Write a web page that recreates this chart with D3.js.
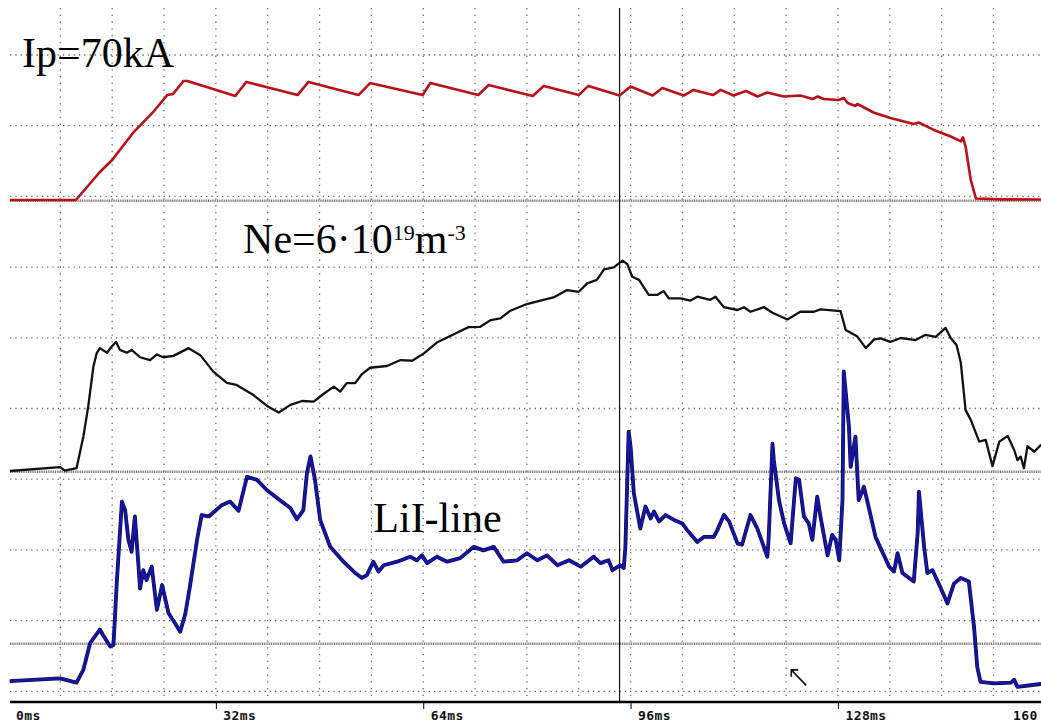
<!DOCTYPE html>
<html>
<head>
<meta charset="utf-8">
<script src="https://cdnjs.cloudflare.com/ajax/libs/d3/7.8.5/d3.min.js"></script>
<style>
  body { margin: 0; background: #fff; }
  svg { display: block; }
</style>
</head>
<body>
<div id="chart"></div>
<script>
// plasma current, kA  [time ms, value]
const ipData = [[0.2,0],[10.4,0],[14.1,17.5],[16.0,25],[19.2,41.9],[22.2,54.4],[24.5,65.6],[25.4,66.3],[27.0,74.4],[27.6,74.4],
  [35.0,65],[36.7,73.8],[44.6,65.6],[46.3,73.8],[54.0,65.6],[55.8,73.1],[63.9,65.6],[65.1,73.1],[72.5,65.6],[74.1,71.9],
  [80.9,65],[82.6,71.3],[88.0,65.6],[89.5,71.3],[94.3,65.3],[96.0,70.9],[99.4,65.3],[100.9,70],[104.2,65.3],[105.7,68.8],
  [108.7,65.6],[109.9,68.8],[111.9,65.3],[113.8,68.1],[115.6,64.7],[117.1,67.2],[119.6,64.7],[122.2,65.3],[124.1,63.1],
  [124.9,64.7],[125.8,63.1],[128.1,62.5],[128.9,63.8],[129.5,60.6],[130.7,58.8],[131.0,60],[133.5,54.7],[136.1,51.3],
  [139.7,47.5],[140.5,48.4],[142.8,43.8],[145.4,39.7],[147.0,36.6],[147.3,39.1],[147.7,33.4],[148.5,12.5],[149.3,0.9],
  [153,0.4],[160,0.3]];

// line averaged density, 1e19 m^-3
const neData = [[0.2,0],[7.95,0.11],[8.7,0.01],[10.5,0.08],[11.55,0.98],[12.3,1.84],[13.1,2.98],[13.6,3.36],[14.1,3.51],
  [15.2,3.38],[15.9,3.55],[16.6,3.69],[17.2,3.46],[18.25,3.38],[19.0,3.46],[20.3,3.25],[21.85,3.17],[22.9,3.33],[23.9,3.25],
  [25.45,3.29],[27.8,3.51],[29.6,3.31],[31.6,2.84],[33.7,2.52],[35.2,2.46],[37.8,2.17],[39.9,1.86],[41.7,1.67],[43.5,1.89],
  [45.3,2.0],[47.1,1.98],[48.6,2.2],[50.2,2.41],[51.2,2.27],[52.2,2.51],[53.5,2.51],[54.55,2.77],[55.8,2.95],[58.4,3.0],
  [60.5,3.17],[62.3,3.15],[64.1,3.36],[66.1,3.67],[69.2,3.95],[71.0,4.11],[72.8,4.12],[74.4,4.31],[75.9,4.36],[77.45,4.58],
  [80.0,4.77],[82.1,4.87],[84.1,4.96],[86.2,5.17],[88.0,5.12],[89.3,5.36],[90.8,5.46],[91.9,5.76],[93.4,5.82],[94.75,6.01],
  [95.5,5.91],[96.25,5.55],[97.3,5.46],[98.8,5.03],[100.1,5.03],[101.1,5.14],[101.9,4.93],[103.7,4.93],[105.25,4.87],
  [106.3,4.98],[108.3,4.89],[109.1,4.98],[110.4,4.68],[112.5,4.6],[113.5,4.68],[114.5,4.55],[116.6,4.68],[117.9,4.52],
  [120.2,4.33],[122.2,4.55],[124.3,4.55],[125.3,4.62],[128.4,4.57],[129.2,4.03],[131.0,3.84],[132.3,3.51],[133.6,3.76],
  [134.6,3.79],[136.1,3.69],[137.7,3.8],[140.0,3.74],[141.5,3.89],[143.1,3.83],[144.6,4.09],[145.4,3.8],[146.3,3.6],
  [146.95,3.11],[147.7,1.74],[148.5,1.46],[149.8,0.84],[150.8,0.89],[151.85,0.14],[152.9,0.84],[154.2,1.0],[155.2,0.6],
  [155.7,0.31],[156.2,0.41],[156.7,0.08],[157.25,0.71],[158.3,0.55],[159.3,0.74],[160,0.66]];

// Li I line intensity, a.u.
const liData = [[0.2,-0.54],[7.95,-0.5],[10.5,-0.56],[11.55,-0.38],[12.6,0.0],[14.1,0.19],[14.6,0.11],[15.7,-0.05],[16.2,-0.03],
  [16.7,0.84],[17.5,2.0],[18.0,1.88],[18.5,1.46],[19.0,1.29],[19.5,1.79],[20.05,1.1],[20.3,0.77],[20.8,1.03],[21.3,0.89],
  [22.1,1.08],[22.9,0.47],[23.7,0.82],[24.7,0.42],[25.7,0.28],[26.5,0.16],[27.3,0.42],[28.0,0.8],[29.1,1.46],[29.8,1.81],
  [30.9,1.79],[32.9,1.95],[34.2,2.0],[35.5,1.87],[36.8,2.35],[38.3,2.31],[39.9,2.16],[41.9,2.02],[43.5,1.91],[44.5,1.75],
  [45.5,1.88],[46.05,2.4],[46.6,2.64],[47.3,2.31],[48.1,1.74],[49.65,1.36],[51.7,1.15],[53.5,0.99],[54.55,0.92],[55.3,0.96],
  [56.3,1.15],[57.1,1.01],[57.9,1.1],[59.95,1.15],[62.0,1.22],[63.0,1.17],[63.8,1.24],[64.6,1.13],[66.1,1.22],[67.7,1.15],
  [69.7,1.2],[71.8,1.36],[73.3,1.31],[74.9,1.36],[76.4,1.15],[78.5,1.17],[80.0,1.27],[81.6,1.17],[83.1,1.24],[84.7,1.1],
  [86.5,1.17],[88.3,1.08],[90.3,1.22],[91.35,1.13],[92.6,1.17],[93.2,1.03],[94.4,1.1],[94.95,1.06],[95.2,1.36],[95.7,2.99],
  [96.0,2.78],[96.5,2.12],[97.5,1.62],[98.3,1.93],[99.1,1.76],[99.6,1.86],[100.4,1.72],[101.4,1.81],[102.7,1.74],[104.0,1.69],
  [104.7,1.6],[106.3,1.43],[107.3,1.5],[108.85,1.5],[109.4,1.6],[110.4,1.81],[111.2,1.72],[112.5,1.41],[113.2,1.39],
  [114.5,1.81],[115.55,1.62],[117.1,1.22],[117.3,1.46],[117.9,2.82],[118.1,2.59],[118.9,2.02],[119.7,1.69],[120.7,1.41],
  [121.5,2.33],[122.0,2.31],[122.75,1.79],[123.5,1.69],[124.05,1.46],[124.8,2.07],[125.3,1.79],[126.4,1.24],[127.1,1.53],
  [127.65,1.46],[128.2,1.17],[128.7,2.02],[128.9,3.84],[129.7,3.06],[129.96,2.49],[130.7,2.92],[131.2,2.02],[132.0,2.21],
  [132.5,2.02],[133.8,1.5],[135.9,1.08],[136.65,1.01],[137.2,1.27],[137.95,0.99],[139.7,0.87],[140.3,1.55],[140.5,2.14],
  [141.3,1.36],[141.8,0.99],[142.6,1.03],[143.9,0.77],[144.9,0.56],[145.9,0.84],[146.95,0.92],[148.2,0.87],[149.0,0.23],
  [149.5,-0.34],[150.0,-0.55],[152.1,-0.57],[154.7,-0.56],[155.2,-0.52],[155.7,-0.62],[159.3,-0.58],[160,-0.57]];

const gridTimes = [8,16,24,32,40,48,56,64,72,80,88,96,104,112,120,128,136,144,152];
const gridDivs = [1,2,3,4,5,6,7,8,9,10];
const tickValues = [0,32,64,96,128,160];
const tickLabels = ["0ms","32ms","64ms","96ms","128ms","160"];
const cursorTime = 94.3;

const width = 1041, height = 724;

const svg = d3.select("#chart").append("svg")
    .attr("width", width)
    .attr("height", height)
    .style("background", "#fff");

// time axis and one vertical scale per channel
const x = d3.scaleLinear().domain([0, 160]).range([8.5, 1045.3]);
const yIp = d3.scaleLinear().domain([0, 70]).range([200, 88]);
const yNe = d3.scaleLinear().domain([0, 6]).range([471, 261]);
const yLi = d3.scaleLinear().domain([0, 1]).range([643, 572.3]);
const yDiv = d3.scaleLinear().domain([0, 10]).range([-15.7, 691.3]);

const plotLeft = 10, plotRight = width, plotTop = 8, plotBottom = 702;

/*
 * dotted grid
 */
svg.append("g")
    .selectAll("line")
    .data(gridTimes)
    .join("line")
      .attr("x1", d => x(d)).attr("x2", d => x(d))
      .attr("y1", plotTop).attr("y2", plotBottom - 2)
      .attr("stroke", "#666")
      .attr("stroke-width", 1.3)
      .attr("stroke-dasharray", "1.3,5.5");

svg.append("g")
    .selectAll("line")
    .data(gridDivs)
    .join("line")
      .attr("x1", plotLeft).attr("x2", plotRight)
      .attr("y1", d => yDiv(d)).attr("y2", d => yDiv(d))
      .attr("stroke", "#666")
      .attr("stroke-width", 1.3)
      .attr("stroke-dasharray", "1.3,4");

// zero line of each channel
svg.append("g")
    .selectAll("line")
    .data([yIp(0), yNe(0), yLi(0)])
    .join("line")
      .attr("x1", plotLeft).attr("x2", plotRight)
      .attr("y1", d => d + 0.8).attr("y2", d => d + 0.8)
      .attr("stroke", "#7b716d")
      .attr("stroke-width", 2.4)
      .attr("stroke-dasharray", "1,0.8");

// cursor
svg.append("line")
    .attr("x1", x(cursorTime)).attr("x2", x(cursorTime))
    .attr("y1", plotTop).attr("y2", plotBottom)
    .attr("stroke", "#111")
    .attr("stroke-width", 1.2);

/*
 * traces
 */
const lineOf = (yScale) => d3.line().x(d => x(d[0])).y(d => yScale(d[1]));

svg.append("path")
    .datum(ipData)
    .attr("d", lineOf(yIp))
    .attr("fill", "none")
    .attr("stroke", "#b8111a")
    .attr("stroke-width", 2.6)
    .attr("stroke-linejoin", "round");

svg.append("path")
    .datum(neData)
    .attr("d", lineOf(yNe))
    .attr("fill", "none")
    .attr("stroke", "#111")
    .attr("stroke-width", 2.3)
    .attr("stroke-linejoin", "round");

svg.append("path")
    .datum(liData)
    .attr("d", lineOf(yLi))
    .attr("fill", "none")
    .attr("stroke", "#0b0b3a")
    .attr("stroke-width", 3.8)
    .attr("stroke-linejoin", "round");
svg.append("path")
    .datum(liData)
    .attr("d", lineOf(yLi))
    .attr("fill", "none")
    .attr("stroke", "#1515a8")
    .attr("stroke-width", 2.6)
    .attr("stroke-linejoin", "round");

/*
 * labels
 */
const serif = "'Liberation Serif', 'Times New Roman', serif";

svg.append("text")
    .attr("x", x(2.1)).attr("y", yIp(83.1))
    .style("font-family", serif).style("font-size", "42px").attr("fill", "#000")
    .text("Ip=70kA");

const neLabel = svg.append("text")
    .attr("x", x(36.2)).attr("y", yNe(6.23))
    .style("font-family", serif).style("font-size", "42px").attr("fill", "#000");
neLabel.append("tspan").text("Ne=6·10");
neLabel.append("tspan").attr("dy", -13).style("font-size", "22px").text("19");
neLabel.append("tspan").attr("dy", 13).text("m");
neLabel.append("tspan").attr("dy", -13).style("font-size", "22px").text("-3");

svg.append("text")
    .attr("x", x(56.3)).attr("y", yLi(1.57))
    .style("font-family", serif).style("font-size", "42px").attr("fill", "#000")
    .text("LiI-line");

// small arrow marker near the bottom
const tip = [x(120.8), yLi(-0.38)], tail = [x(123.1), yLi(-0.6)];
svg.append("path")
    .attr("d", `M${tail[0]},${tail[1]}L${tip[0]},${tip[1]}M${tip[0]},${tip[1] + 7}L${tip[0]},${tip[1]}L${tip[0] + 7},${tip[1]}`)
    .attr("fill", "none")
    .attr("stroke", "#111")
    .attr("stroke-width", 1.6);

/*
 * time axis
 */
svg.append("line")
    .attr("x1", plotLeft).attr("x2", plotRight)
    .attr("y1", plotBottom).attr("y2", plotBottom)
    .attr("stroke", "#000")
    .attr("stroke-width", 2.4);

const axis = svg.append("g")
    .attr("transform", `translate(0,${plotBottom})`)
    .call(d3.axisBottom(x)
        .tickValues(tickValues)
        .tickSize(7)
        .tickFormat((d, i) => tickLabels[i]));
axis.select(".domain").remove();
axis.selectAll(".tick line")
    .attr("stroke", "#000")
    .attr("y1", 1)
    .style("display", d => (d === 0 || d === 160) ? "none" : null);
axis.selectAll(".tick text")
    .attr("y", 17.5)
    .attr("dy", 0)
    .attr("dx", d => d === 160 ? -8 : 7)
    .attr("text-anchor", d => d === 160 ? "end" : "start")
    .attr("fill", "#111")
    .style("font-family", "'DejaVu Sans Mono', monospace")
    .style("font-size", "13px")
    .style("font-weight", "bold")
    .style("letter-spacing", "0.4px");
</script>
</body>
</html>
